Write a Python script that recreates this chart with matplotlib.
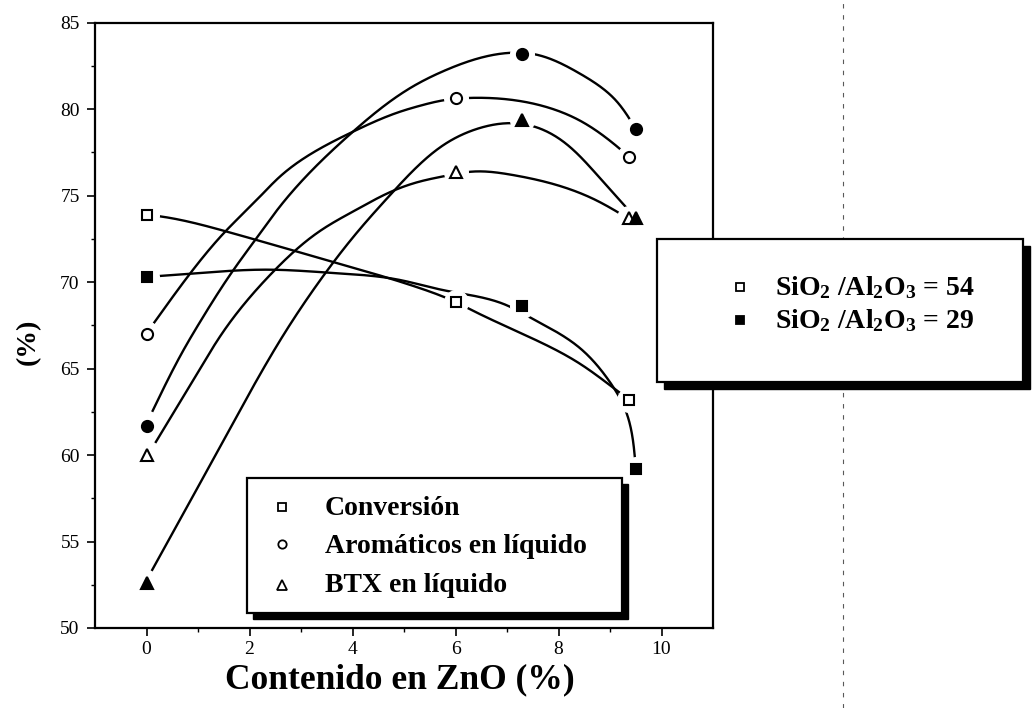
import numpy as np
import matplotlib
matplotlib.use("Agg")
import matplotlib.pyplot as plt
from matplotlib.patches import Rectangle
from matplotlib.lines import Line2D

plt.rcParams['font.family'] = ['Liberation Serif', 'DejaVu Serif']
plt.rcParams['mathtext.fontset'] = 'custom'
plt.rcParams['mathtext.rm'] = 'Liberation Serif:bold'
plt.rcParams['mathtext.it'] = 'Liberation Serif:bold'
plt.rcParams['mathtext.bf'] = 'Liberation Serif:bold'

# ---------------- data ----------------
zno_54 = [0.0, 6.0, 9.37]
zno_29 = [0.0, 7.3, 9.5]
conv_54 = [73.9, 68.85, 63.2]
conv_29 = [70.3, 68.6, 59.2]
arom_54 = [67.0, 80.65, 77.25]
arom_29 = [61.7, 83.2, 78.85]
btx_54 = [60.0, 76.35, 73.7]
btx_29 = [52.6, 79.35, 73.7]

# points read along the hand-smoothed curves of the original
curve_conv_54_x = [0.0, 0.27, 1.56, 2.59, 3.62, 5.3, 6.0, 6.31, 7.43, 8.39, 9.17, 9.37]
curve_conv_54_y = [73.9, 73.8, 72.92, 72.05, 71.17, 69.66, 68.85, 68.39, 66.83, 65.33, 63.65, 63.2]
curve_conv_29_x = [0.0, 1.04, 2.34, 3.62, 4.91, 5.74, 6.98, 7.43, 8.39, 8.97, 9.3, 9.5]
curve_conv_29_y = [70.3, 70.53, 70.72, 70.53, 70.13, 69.55, 68.68, 67.99, 66.25, 64.34, 62.6, 59.2]
curve_arom_54_x = [0.14, 0.85, 1.56, 2.14, 2.59, 4.01, 4.91, 5.3, 5.82, 6.27, 7.76, 8.39, 9.17, 9.37]
curve_arom_54_y = [67.62, 70.51, 73.02, 74.75, 76.1, 78.7, 79.84, 80.19, 80.54, 80.65, 80.13, 79.38, 77.76, 77.25]
curve_arom_29_x = [0.11, 0.72, 1.04, 1.69, 2.11, 2.59, 4.01, 5.17, 5.82, 6.98, 7.49, 8.39, 9.1, 9.5]
curve_arom_29_y = [62.5, 66.08, 67.7, 70.71, 72.44, 74.37, 78.7, 81.31, 82.27, 83.24, 83.2, 82.1, 80.55, 78.86]
curve_btx_54_x = [0.17, 1.04, 1.46, 2.46, 3.4, 4.07, 4.75, 5.3, 5.82, 6.33, 7.1, 8.07, 8.72, 9.37]
curve_btx_54_y = [60.7, 65.0, 67.0, 70.6, 73.02, 74.18, 75.23, 75.81, 76.15, 76.39, 76.2, 75.52, 74.75, 73.65]
curve_btx_29_x = [0.1, 1.1, 1.91, 2.65, 3.37, 4.11, 4.75, 5.3, 5.82, 6.46, 7.1, 7.52, 8.01, 8.72, 9.5]
curve_btx_29_y = [53.3, 58.7, 63.1, 66.9, 70.1, 72.95, 75.1, 76.8, 78.03, 78.9, 79.19, 79.0, 78.3, 76.3, 73.7]

x_ticks = [0, 2, 4, 6, 8, 10]
y_ticks = [50, 55, 60, 65, 70, 75, 80, 85]

legend1_labels = ['Conversión', 'Aromáticos en líquido', 'BTX en líquido']
legend2_labels = [r'SiO$_2$ /Al$_2$O$_3$ = 54', r'SiO$_2$ /Al$_2$O$_3$ = 29']
xlabel = 'Contenido en ZnO (%)'
ylabel = '(%)'

# ---------------- figure ----------------
W, H = 1035, 708
fig = plt.figure(figsize=(W / 100, H / 100), dpi=100)


def fx(px):
    return px / W


def fy(py):
    return 1 - py / H


ax = fig.add_axes([fx(95), fy(628), fx(713) - fx(95), fy(22.7) - fy(628)])
ax.set_xlim(-1, 11)
ax.set_ylim(50, 85)
ax.set_xticks(x_ticks)
ax.set_yticks(y_ticks)
ax.set_xticks([1, 3, 5, 7, 9], minor=True)
ax.set_yticks(np.arange(52.5, 85, 5), minor=True)
ax.tick_params(which='major', direction='out', length=6, width=1.2, labelsize=14)
ax.tick_params(axis='y', which='major', pad=5)
ax.tick_params(axis='x', which='major', pad=3)
ax.tick_params(which='minor', direction='out', length=3, width=1.0)
for s in ax.spines.values():
    s.set_linewidth(1.6)


def nat_spline(t, y, tt):
    n = len(t)
    h = np.diff(t)
    A = np.zeros((n, n))
    r = np.zeros(n)
    A[0, 0] = A[-1, -1] = 1
    for i in range(1, n - 1):
        A[i, i - 1] = h[i - 1]
        A[i, i] = 2 * (h[i - 1] + h[i])
        A[i, i + 1] = h[i]
        r[i] = 6 * ((y[i + 1] - y[i]) / h[i] - (y[i] - y[i - 1]) / h[i - 1])
    M = np.linalg.solve(A, r)
    idx = np.clip(np.searchsorted(t, tt) - 1, 0, n - 2)
    t0, t1, hh = t[idx], t[idx + 1], h[idx]
    a = t1 - tt
    b = tt - t0
    return ((M[idx] * a ** 3 + M[idx + 1] * b ** 3) / (6 * hh)
            + (y[idx] / hh - M[idx] * hh / 6) * a
            + (y[idx + 1] / hh - M[idx + 1] * hh / 6) * b)


def smooth_curve(xs, ys, n=600):
    pts = ax.transData.transform(np.column_stack([xs, ys]))
    d = np.hypot(*np.diff(pts, axis=0).T)
    t = np.concatenate([[0], np.cumsum(d)])
    tt = np.linspace(0, t[-1], n)
    out = np.column_stack([nat_spline(t, pts[:, 0], tt), nat_spline(t, pts[:, 1], tt)])
    return ax.transData.inverted().transform(out)


curves = [
    (curve_conv_54_x, curve_conv_54_y),
    (curve_conv_29_x, curve_conv_29_y),
    (curve_arom_54_x, curve_arom_54_y),
    (curve_arom_29_x, curve_arom_29_y),
    (curve_btx_54_x, curve_btx_54_y),
    (curve_btx_29_x, curve_btx_29_y),
]
for cx, cy in curves:
    c = smooth_curve(cx, cy)
    ax.plot(c[:, 0], c[:, 1], color='black', lw=1.7, zorder=2, solid_capstyle='butt')

series = [
    (zno_54, conv_54, 's', 'white', 6.5),
    (zno_29, conv_29, 's', 'black', 7),
    (zno_54, arom_54, 'o', 'white', 8),
    (zno_29, arom_29, 'o', 'black', 8),
    (zno_54, btx_54, '^', 'white', 8.5),
    (zno_29, btx_29, '^', 'black', 8.5),
]
# white halos produce the gaps of the curves around the symbols
for x, y, m, fc, ms in series:
    ax.plot(x, y, linestyle='none', marker='o', ms=17, mfc='white', mec='white', zorder=3)
for x, y, m, fc, ms in series:
    ax.plot(x, y, linestyle='none', marker=m, ms=ms, mfc=fc, mec='black', mew=1.5, zorder=4)


# ---------------- legend boxes ----------------
def box(x0, y0, x1, y1, sh):
    fig.add_artist(Rectangle((fx(x0 + sh), fy(y1 + sh)), fx(x1 - x0), fy(y0) - fy(y1),
                             transform=fig.transFigure, facecolor='black', edgecolor='black',
                             zorder=5))
    fig.add_artist(Rectangle((fx(x0), fy(y1)), fx(x1 - x0), fy(y0) - fy(y1),
                             transform=fig.transFigure, facecolor='white', edgecolor='black',
                             lw=1.6, zorder=6))


box(247, 478, 622, 613, 6)
box(657, 239, 1023, 382, 7)

leg1_markers = ['s', 'o', '^']
leg1_sizes = [5.5, 6, 6.5]
leg1_marker_y = [507, 544, 585]
leg1_text_y = [515, 553, 592]
for lab, m, ms, my, ty in zip(legend1_labels, leg1_markers, leg1_sizes, leg1_marker_y, leg1_text_y):
    fig.add_artist(Line2D([fx(282)], [fy(my)], transform=fig.transFigure, marker=m, ms=ms,
                          mfc='white', mec='black', mew=1.3, linestyle='none', zorder=7))
    fig.text(fx(325), fy(ty), lab, ha='left', va='baseline', fontsize=20,
             fontweight='bold', zorder=7)

leg2_fc = ['white', 'black']
leg2_marker_y = [287, 320]
leg2_text_y = [295, 328]
for lab, fc, my, ty in zip(legend2_labels, leg2_fc, leg2_marker_y, leg2_text_y):
    fig.add_artist(Line2D([fx(740)], [fy(my)], transform=fig.transFigure, marker='s', ms=5.5,
                          mfc=fc, mec='black', mew=1.3, linestyle='none', zorder=7))
    fig.text(fx(775), fy(ty), lab, ha='left', va='baseline', fontsize=20,
             fontweight='bold', zorder=7)

# axis titles
fig.text(fx(400), fy(688), xlabel, ha='center', va='baseline', fontsize=25.5, fontweight='bold')
fig.text(fx(28), fy(342), ylabel, ha='center', va='center', rotation=90, fontsize=20,
         fontweight='bold')

# faint fold line of the scanned page
fig.add_artist(Line2D([fx(843), fx(843)], [0, 1], transform=fig.transFigure, color='0.35',
                      lw=0.8, linestyle=(0, (4, 6)), zorder=1))

fig.savefig('out.png', dpi=100, facecolor='white')
